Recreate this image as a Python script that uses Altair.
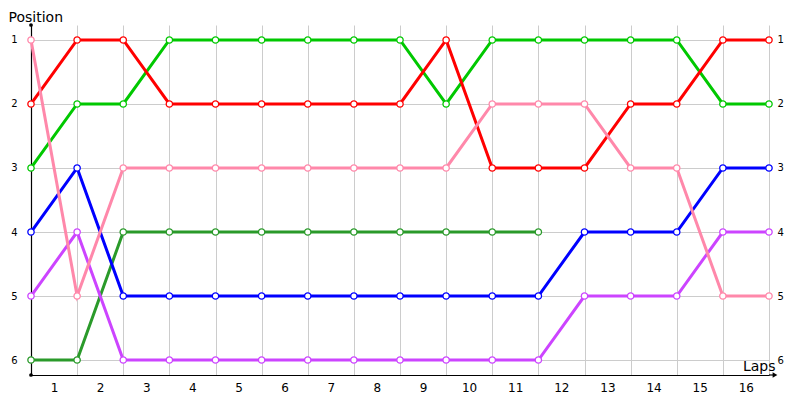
import altair as alt
import pandas as pd
import json

# ---- data ----
laps = list(range(17))
lap_labels = [str(i) for i in range(1, 17)]
positions = [1, 2, 3, 4, 5, 6]

series_names = ["Dark green", "Purple", "Blue", "Green", "Red", "Pink"]
series_colors = ["#2a9a2a", "#cc44ff", "#0000ff", "#00c800", "#ff0000", "#ff88aa"]

red = [2, 1, 1, 2, 2, 2, 2, 2, 2, 1, 3, 3, 3, 2, 2, 1, 1]
green = [3, 2, 2, 1, 1, 1, 1, 1, 1, 2, 1, 1, 1, 1, 1, 2, 2]
pink = [1, 5, 3, 3, 3, 3, 3, 3, 3, 3, 2, 2, 2, 3, 3, 5, 5]
blue = [4, 3, 5, 5, 5, 5, 5, 5, 5, 5, 5, 5, 4, 4, 4, 3, 3]
purple = [5, 4, 6, 6, 6, 6, 6, 6, 6, 6, 6, 6, 5, 5, 5, 4, 4]
dark_green = [6, 6, 4, 4, 4, 4, 4, 4, 4, 4, 4, 4]

series_values = {
    "Dark green": dark_green,
    "Purple": purple,
    "Blue": blue,
    "Green": green,
    "Red": red,
    "Pink": pink,
}

rows = []
for order, name in enumerate(series_names):
    for lap, pos in zip(laps, series_values[name]):
        rows.append({"series": name, "lap": lap, "pos": pos, "order": order})
df = pd.DataFrame(rows)

FONT = "DejaVu Sans"
W, H = 738, 350

xscale = alt.Scale(domain=[0, 16], nice=False, zero=False)
yscale = alt.Scale(domain=[0.766, 6.234], reverse=True, nice=False, zero=False)
cscale = alt.Scale(domain=series_names, range=series_colors)

label_expr = "datum.value < 16 ? " + json.dumps(lap_labels) + "[datum.value] : ''"

xaxis = alt.Axis(
    values=laps, labelExpr=label_expr, labelOffset=23, ticks=False, tickSize=0,
    domainColor="black", domainWidth=1.2, gridColor="#cccccc",
    labelFontSize=12, labelFont=FONT, labelColor="black", labelPadding=7,
    labelFlush=False, labelOverlap=False,
    title="Laps", titleAngle=0, titleAlign="right", titleX=744, titleY=-5,
    titleBaseline="alphabetic", titleFontSize=14, titleFont=FONT,
    titleFontWeight="normal", titleColor="black",
)

yaxis_left = alt.Axis(
    values=positions, format="d", ticks=False, tickSize=0,
    labelFontSize=10, labelFont=FONT, labelColor="black", labelPadding=14,
    domainColor="black", domainWidth=1.2, gridColor="#cccccc",
    title="Position", titleAngle=0, titleAlign="left", titleBaseline="alphabetic",
    titleX=-23, titleY=-4, titleFontSize=14, titleFont=FONT,
    titleFontWeight="normal", titleColor="black",
)

yaxis_right = alt.Axis(
    orient="right", values=positions, format="d", ticks=False, tickSize=0,
    domain=False, grid=False, labelFontSize=10, labelFont=FONT,
    labelColor="black", labelPadding=8, title=None,
)

base = alt.Chart(df)

lines = base.mark_line(strokeWidth=3).encode(
    x=alt.X("lap:Q", scale=xscale, axis=xaxis),
    y=alt.Y("pos:Q", scale=yscale, axis=yaxis_left),
    color=alt.Color("series:N", scale=cscale, legend=None),
    detail="series:N",
    order="lap:Q",
)

points = base.mark_point(shape="circle", fill="white", fillOpacity=1,
                         strokeWidth=1.3, size=40, opacity=1).encode(
    x=alt.X("lap:Q", scale=xscale, axis=xaxis),
    y=alt.Y("pos:Q", scale=yscale, axis=yaxis_right),
    stroke=alt.Stroke("series:N", scale=cscale, legend=None),
)

one = alt.Chart(pd.DataFrame({"a": [0]}))
arrow_line = one.mark_rule(color="black", strokeWidth=1.2).encode(
    x=alt.value(W), x2=alt.value(W + 6), y=alt.value(H))
arrow_head = one.mark_point(shape="triangle-right", filled=True, color="black",
                            size=30, opacity=1).encode(
    x=alt.value(W + 6), y=alt.value(H))
dot_top = one.mark_circle(color="black", size=14, opacity=1).encode(
    x=alt.value(0), y=alt.value(0))
dot_origin = one.mark_circle(color="black", size=14, opacity=1).encode(
    x=alt.value(0), y=alt.value(H))

chart = alt.layer(lines, points, arrow_line, arrow_head, dot_top, dot_origin).resolve_axis(
    y="independent"
).properties(
    width=W, height=H,
    autosize=alt.AutoSizeParams(type="none"),
    padding={"left": 23, "top": 17, "right": 23, "bottom": 22},
    background="white",
).configure_view(stroke=None)

chart.save("out.html", embed_options={"renderer": "svg", "actions": False})
